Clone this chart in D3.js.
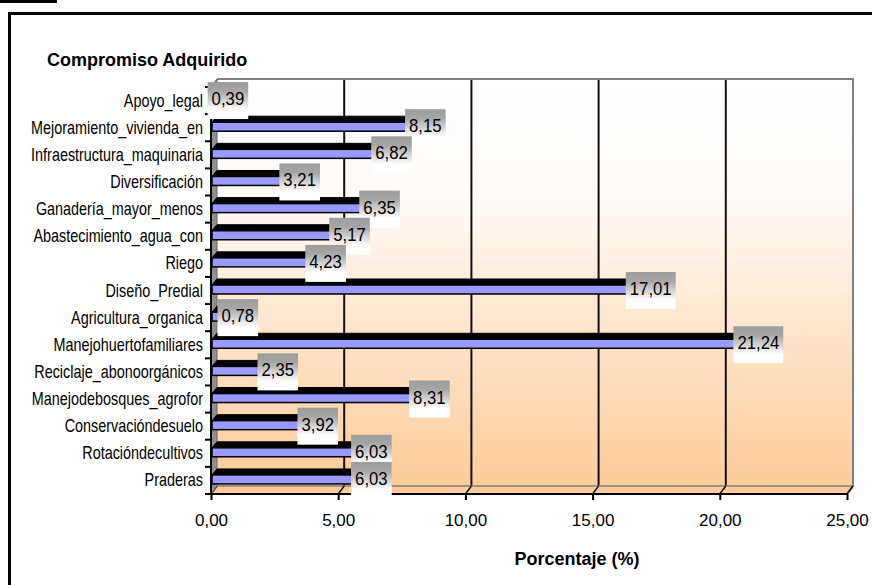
<!DOCTYPE html>
<html><head><meta charset="utf-8">
<script src="https://cdn.jsdelivr.net/npm/d3@7"></script>
<style>body{margin:0;background:#fff}svg{display:block}</style>
</head><body>
<script>
const categories = ["Apoyo_legal","Mejoramiento_vivienda_en","Infraestructura_maquinaria","Diversificación","Ganadería_mayor_menos","Abastecimiento_agua_con","Riego","Diseño_Predial","Agricultura_organica","Manejohuertofamiliares","Reciclaje_abonoorgánicos","Manejodebosques_agrofor","Conservacióndesuelo","Rotacióndecultivos","Praderas"];
const values = [0.39, 8.15, 6.82, 3.21, 6.35, 5.17, 4.23, 17.01, 0.78, 21.24, 2.35, 8.31, 3.92, 6.03, 6.03];
const xTicks = [0, 5, 10, 15, 20, 25];
const yTitle = "Compromiso Adquirido";
const xTitle = "Porcentaje (%)";

const W = 872, H = 585;
const DX = 6, DY = 8;
const fmt = v => v.toFixed(2).replace('.', ',');

const svg = d3.select("body").append("svg").attr("width", W).attr("height", H);
const defs = svg.append("defs");
const wg = defs.append("linearGradient").attr("id","wall").attr("x1",0).attr("y1",0).attr("x2",0).attr("y2",1);
wg.append("stop").attr("offset","0%").attr("stop-color","#ffffff");
wg.append("stop").attr("offset","30%").attr("stop-color","#fffaf6");
wg.append("stop").attr("offset","100%").attr("stop-color","#ffcc99");
const lg = defs.append("linearGradient").attr("id","lbl").attr("x1",0).attr("y1",0).attr("x2",0).attr("y2",1);
lg.append("stop").attr("offset","0%").attr("stop-color","#9c9c9c");
lg.append("stop").attr("offset","25%").attr("stop-color","#a6a6a6");
lg.append("stop").attr("offset","75%").attr("stop-color","#ffffff");
lg.append("stop").attr("offset","100%").attr("stop-color","#ffffff");

const x = d3.scaleLinear().domain([0, 25]).range([211, 847]);
const y = d3.scaleBand().domain(categories).range([87, 494]);
const x0 = x(0), x1 = x(25), yT = y.range()[0], yB = y.range()[1];

// outer frame
svg.append("path").attr("d", `M9.5,${H} V13.5 H${W}`).attr("fill","none").attr("stroke","#000").attr("stroke-width",3);
svg.append("line").attr("x1",0).attr("x2",57).attr("y1",1.5).attr("y2",1.5).attr("stroke","#000").attr("stroke-width",3);

// back wall
svg.append("rect").attr("x", x0+DX).attr("y", yT-DY).attr("width", x1-x0).attr("height", yB-yT)
  .attr("fill","url(#wall)");
// gridlines on back wall
svg.selectAll(".grid").data(xTicks.filter(d => d > 0 && d < 25)).join("line")
  .attr("x1", d => x(d)+DX).attr("x2", d => x(d)+DX).attr("y1", yT-DY).attr("y2", yB-DY)
  .attr("stroke","#111").attr("stroke-width",2);
// wall border top/right
svg.append("path").attr("d", `M${x0+DX},${yT-DY} H${x1+DX} V${yB-DY} L${x1},${yB}`)
  .attr("fill","none").attr("stroke","#808080").attr("stroke-width",2);
// floor
svg.append("path").attr("d", `M${x0},${yB} L${x0+DX},${yB-DY} H${x1+DX} L${x1},${yB} Z`)
  .attr("fill","#ffcc99");
svg.append("line").attr("x1",x0+DX).attr("x2",x1+DX).attr("y1",yB-DY).attr("y2",yB-DY).attr("stroke","#808080").attr("stroke-width",1.5);
svg.append("path").attr("d", `M${x1+DX},${yB-DY} L${x1},${yB}`).attr("stroke","#808080").attr("stroke-width",2);
// floor tick slants
svg.selectAll(".slant").data(xTicks).join("line")
  .attr("x1", d => x(d)).attr("y1", yB).attr("x2", d => x(d)+DX).attr("y2", yB-DY)
  .attr("stroke","#111").attr("stroke-width",1.5);
// left wall
svg.append("path").attr("d", `M${x0},${yT} L${x0+DX},${yT-DY} V${yB-DY} L${x0},${yB} Z`)
  .attr("fill","#8f8f8f").attr("stroke","#6a6a6a").attr("stroke-width",1);

// bars
const bh = 9, bdx = 5, bdy = 6;
const bars = svg.selectAll(".bar").data(categories.map((c,i)=>({c, v: values[i]}))).join("g");
bars.append("path").attr("d", d => {
  const c = y(d.c) + y.bandwidth()/2, top = c - 5.5, xe = x(d.v);
  return `M${x0+1},${top} L${x0+1+bdx},${top-bdy} H${xe+bdx} L${xe},${top} Z`;
}).attr("fill","#000").attr("stroke","#000").attr("stroke-width",1);
bars.append("rect").attr("x", x0+1).attr("y", d => y(d.c)+y.bandwidth()/2-5.5)
  .attr("width", d => Math.max(0, x(d.v)-x0-1)).attr("height", bh)
  .attr("fill","#9999ff").attr("stroke","#000").attr("stroke-width",1.5);

// axes
svg.append("line").attr("x1",x0).attr("x2",x1).attr("y1",yB).attr("y2",yB).attr("stroke","#000").attr("stroke-width",2);
svg.append("line").attr("x1",x0).attr("x2",x0).attr("y1",yT).attr("y2",yB+1).attr("stroke","#000").attr("stroke-width",2);
const bounds = categories.map(c => y(c)).concat([yB]);
svg.selectAll(".ytick").data(bounds).join("line")
  .attr("x1", x0-6).attr("x2", x0).attr("y1", d => d).attr("y2", d => d)
  .attr("stroke","#000").attr("stroke-width",2);
const xa = svg.append("g").attr("transform", `translate(0,${yB})`)
  .call(d3.axisBottom(x).tickValues(xTicks).tickFormat(fmt).tickSize(6).tickPadding(0));
xa.select(".domain").remove();
xa.selectAll(".tick line").attr("stroke","#000").attr("stroke-width",2);
xa.selectAll(".tick text").attr("font-family","Liberation Sans, Arial, sans-serif").attr("font-size",17)
  .attr("fill","#000").attr("dy",0).attr("y",32);

// category labels
svg.selectAll(".clab").data(categories).join("text")
  .attr("transform", d => `translate(203,${y(d)+y.bandwidth()/2+6}) scale(0.8,1)`)
  .attr("text-anchor","end").attr("font-family","Liberation Sans, Arial, sans-serif")
  .attr("font-size",18).attr("fill","#000").text(d => d);

// value labels
const vl = svg.selectAll(".vlab").data(categories.map((c,i)=>({c, v: values[i]}))).join("g");
vl.each(function(d){
  const g = d3.select(this);
  const c = y(d.c) + y.bandwidth()/2;
  const rect = g.append("rect");
  const t = g.append("text").attr("font-family","Liberation Sans, Arial, sans-serif")
    .attr("font-size",18).attr("fill","#000").text(fmt(d.v));
  const sx = 0.93;
  const tw = t.node().getComputedTextLength()*sx;
  const bw = tw + 8;
  const cx = x(d.v) + 7;
  const left = cx - bw/2;
  rect.attr("x", left).attr("y", c-18.5).attr("width", bw).attr("height", 37).attr("fill","url(#lbl)");
  t.attr("transform", `translate(${left+4},${c+4.5}) scale(${sx},1)`);
});

// titles
svg.append("text").attr("x",47).attr("y",66).attr("font-family","Liberation Sans, Arial, sans-serif")
  .attr("font-size",18).attr("font-weight","bold").attr("fill","#000").text(yTitle);
svg.append("text").attr("x",577).attr("y",565).attr("text-anchor","middle").attr("font-family","Liberation Sans, Arial, sans-serif")
  .attr("font-size",18).attr("font-weight","bold").attr("fill","#000").text(xTitle);
</script>
</body></html>
